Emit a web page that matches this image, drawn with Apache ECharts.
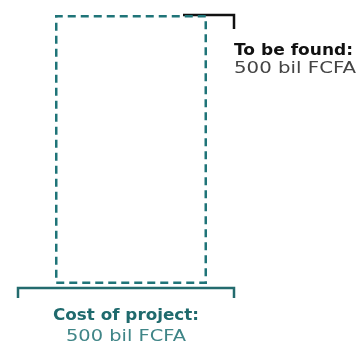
<!DOCTYPE html>
<html><head><meta charset="utf-8">
<script src="https://cdn.jsdelivr.net/npm/echarts@6/dist/echarts.min.js"></script>
<style>html,body{margin:0;padding:0;background:#fff}#c{width:356px;height:345px}</style>
</head><body><div id="c"></div>
<script>
const categories = ['Project'];
const toBeFound = [500];
const costOfProject = [500];
const labelTop = ['To be found:', '500 bil FCFA'];
const labelBottom = ['Cost of project:', '500 bil FCFA'];

const TEAL = '#1f7478';
const chart = echarts.init(document.getElementById('c'), null, {renderer: 'canvas'});
const option = {
  animation: false,
  grid: {left: 55, right: 149, top: 15, bottom: 61},
  xAxis: {type: 'category', data: categories, show: false},
  yAxis: {type: 'value', min: 0, max: costOfProject[0], show: false},
  series: [{
    type: 'bar', data: toBeFound, barWidth: '100%',
    itemStyle: {color: 'rgba(0,0,0,0)', borderColor: TEAL, borderWidth: 2.5, borderType: [8, 5]}
  }]
};
chart.setOption(option);
const yTop = chart.convertToPixel({yAxisIndex: 0}, toBeFound[0]);
const yBot = chart.convertToPixel({yAxisIndex: 0}, 0);
const rect = chart.getModel().getComponent('grid').coordinateSystem.getRect();
const xR = rect.x + rect.width;
const cv = document.createElement('canvas').getContext('2d');
function sx(font, text, target) { cv.font = font; return target / cv.measureText(text).width; }
const FB = 'bold 15px "DejaVu Sans"', FR = '15px "DejaVu Sans"';
function txt(x, y, text, font, fill, w, align) {
  return {type: 'text', x: x, y: y, scaleX: sx(font, text, w),
    style: {text: text, fill: fill, font: font, textAlign: align, textVerticalAlign: 'middle'}};
}
chart.setOption({graphic: [
  {type: 'polyline', shape: {points: [[xR - 24, yTop], [xR + 27, yTop], [xR + 27, yTop + 14]]},
   style: {stroke: '#111', lineWidth: 2.5, fill: null}},
  {type: 'polyline', shape: {points: [[18, yBot + 14], [18, yBot + 4], [234, yBot + 4], [234, yBot + 14]]},
   style: {stroke: '#236b6e', lineWidth: 2.5, fill: null}},
  txt(xR + 27, yTop + 36, labelTop[0], FB, '#111', 119, 'left'),
  txt(xR + 27, yTop + 54, labelTop[1], FR, '#444', 122, 'left'),
  txt(126, yBot + 32, labelBottom[0], FB, '#1f6a6d', 146, 'center'),
  txt(126, yBot + 53, labelBottom[1], FR, '#3f8587', 120, 'center')
]});
</script></body></html>
